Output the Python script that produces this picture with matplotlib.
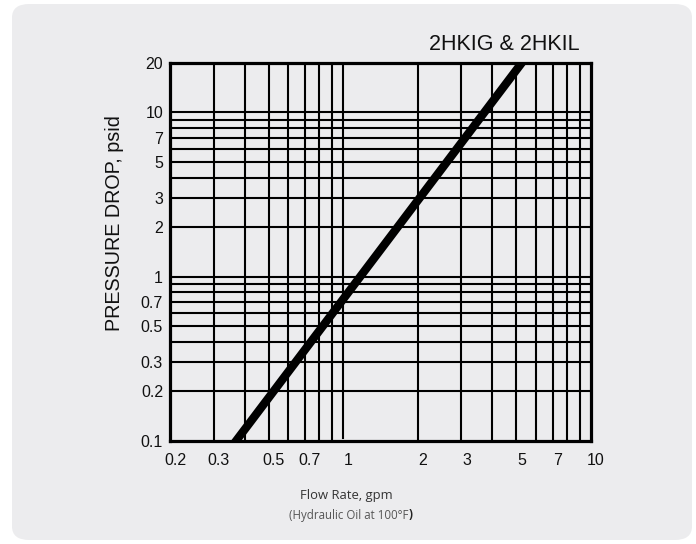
import matplotlib
matplotlib.use("Agg")
import matplotlib.pyplot as plt
from matplotlib.patches import FancyBboxPatch
from matplotlib.ticker import FixedLocator, NullLocator, FixedFormatter
import matplotlib.transforms as mtransforms
from matplotlib import font_manager

# Data
flow_gpm = [0.37, 5.25]          # flow rate endpoints of the curve
drop_psid = [0.1, 20.0]           # pressure drop at those flows

x_major = [0.2, 0.3, 0.5, 0.7, 1, 2, 3, 5, 7, 10]
x_major_labels = ["0.2", "0.3", "0.5", "0.7", "1", "2", "3", "5", "7", "10"]
x_grid = [0.3, 0.4, 0.5, 0.6, 0.7, 0.8, 0.9, 1, 2, 3, 4, 5, 6, 7, 8, 9]
y_major = [0.1, 0.2, 0.3, 0.5, 0.7, 1, 2, 3, 5, 7, 10, 20]
y_major_labels = ["0.1", "0.2", "0.3", "0.5", "0.7", "1", "2", "3", "5", "7", "10", "20"]
y_grid = [0.2, 0.3, 0.4, 0.5, 0.6, 0.7, 0.8, 0.9, 1, 2, 3, 4, 5, 6, 7, 8, 9, 10]

names = {f.name for f in font_manager.fontManager.ttflist}
narrow = "Liberation Sans Narrow" if "Liberation Sans Narrow" in names else "Open Sans"
lab_size = 10.2 if narrow != "Open Sans" else 9.4
sub_size = 9.6 if narrow != "Open Sans" else 8.3

W, H = 696, 544
fig = plt.figure(figsize=(W / 100, H / 100), dpi=100)
fig.patch.set_facecolor("white")

panel = FancyBboxPatch((12 / W, 4 / H), (692 - 12) / W, (540 - 4) / H,
                       boxstyle="round,pad=0,rounding_size=0.025",
                       transform=fig.transFigure, facecolor="#ececee",
                       edgecolor="none", zorder=-10)
fig.add_artist(panel)

ax = fig.add_axes([170 / W, 1 - 440.7 / H, (591 - 170) / W, (440.7 - 63) / H])
ax.set_zorder(5)
ax.set_facecolor("#ececee")
ax.set_xscale("log")
ax.set_yscale("log")
ax.set_xlim(0.2, 10)
ax.set_ylim(0.1, 20)

for xv in x_grid:
    ax.axvline(xv, ymin=0.008 if xv == 1 else 0, color="black", lw=1.5, zorder=1)
for yv in y_grid:
    ax.axhline(yv, color="black", lw=1.5, zorder=1)

ax.axline((flow_gpm[0], drop_psid[0]), (flow_gpm[1], drop_psid[1]),
          color="black", lw=6, zorder=3)

ax.xaxis.set_major_locator(FixedLocator(x_major))
ax.xaxis.set_major_formatter(FixedFormatter(x_major_labels))
ax.xaxis.set_minor_locator(NullLocator())
ax.yaxis.set_major_locator(FixedLocator(y_major))
ax.yaxis.set_major_formatter(FixedFormatter(y_major_labels))
ax.yaxis.set_minor_locator(NullLocator())
ax.tick_params(axis="both", length=0, labelsize=11.5, colors="#111111")
ax.tick_params(axis="x", pad=9)
ax.tick_params(axis="y", pad=5)
for lab in ax.get_xticklabels():
    lab.set_fontfamily("Liberation Sans")
    lab.set_transform(lab.get_transform() + mtransforms.ScaledTranslation(5 / 100, 0, fig.dpi_scale_trans))
for lab in ax.get_yticklabels():
    lab.set_fontfamily("Liberation Sans")

for s in ax.spines.values():
    s.set_linewidth(2.3)
    s.set_color("black")
    s.set_zorder(4)

fig.text(580 / W, 1 - 45 / H, "2HKIG & 2HKIL", ha="right", va="center",
         fontsize=15.5, family="Liberation Sans", color="#111111")
fig.text(115 / W, 1 - 223.5 / H, "PRESSURE DROP, psid", rotation=90,
         ha="center", va="center", fontsize=14.2, family="Liberation Sans",
         color="#111111")
fig.text(346.7 / W, 1 - 495 / H, "Flow Rate, gpm", ha="center", va="center",
         fontsize=lab_size, family=narrow, color="#333333")
t2 = fig.text(349 / W, 1 - 515 / H, "(Hydraulic Oil at 100°F", ha="center",
              va="center", fontsize=sub_size, family=narrow, color="#555555")
fig.add_artist(plt.Annotation(")", xy=(1, 0.5), xycoords=t2, ha="left", va="center",
                              fontsize=sub_size, family=narrow, fontweight="bold",
                              color="#222222", annotation_clip=False))

fig.savefig("out.png", dpi=100, facecolor="white")
